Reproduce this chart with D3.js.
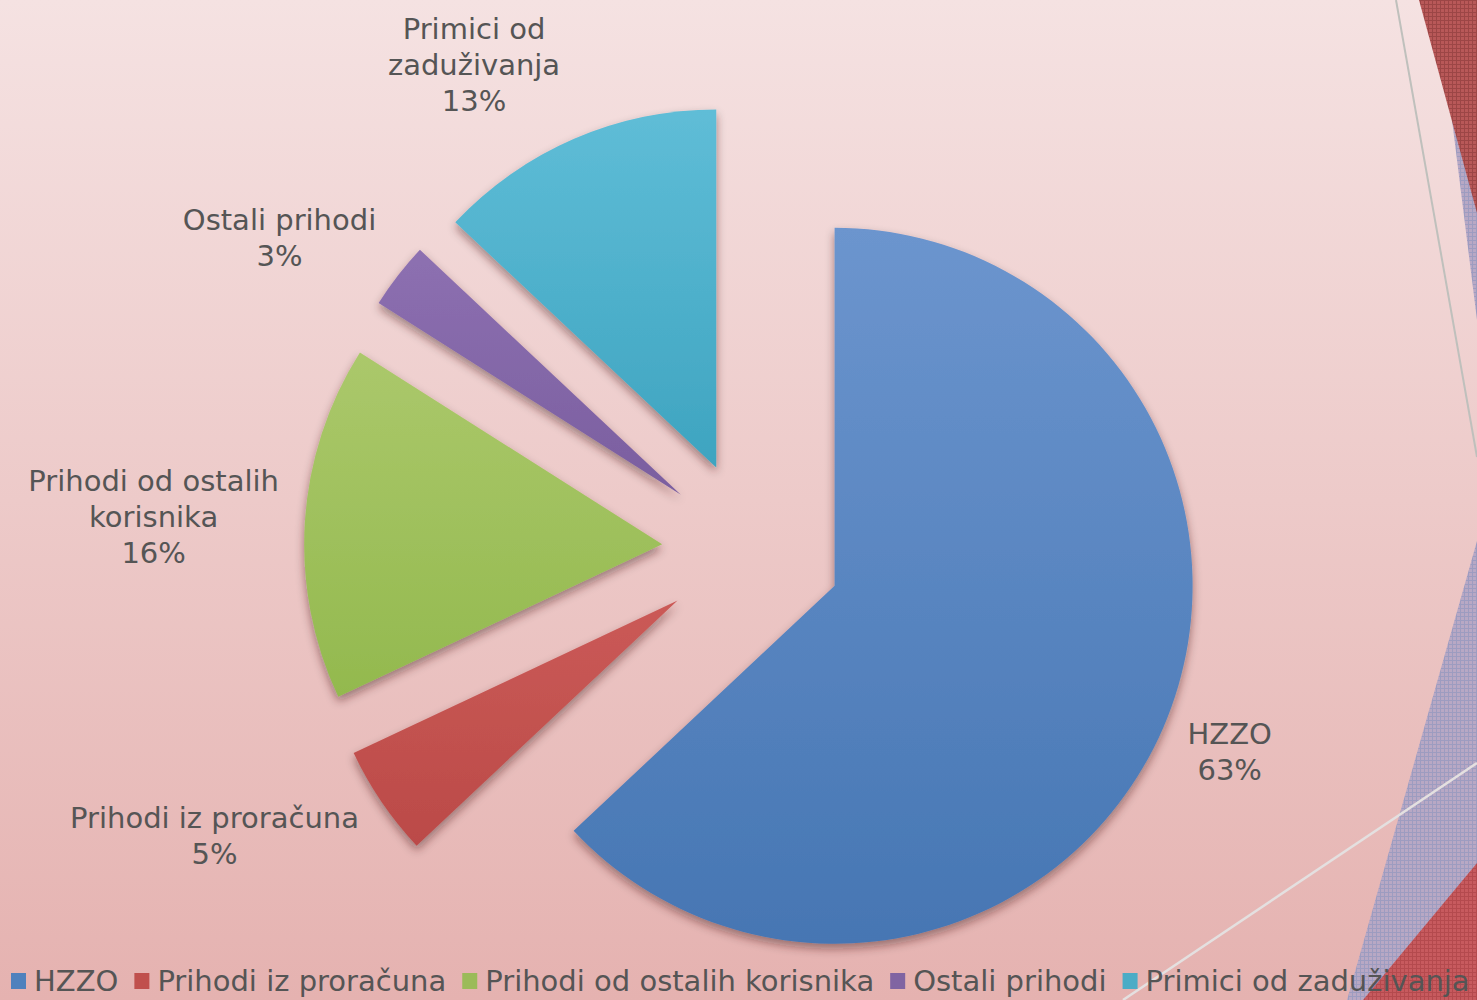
<!DOCTYPE html>
<html>
<head>
<meta charset="utf-8">
<script src="https://cdn.jsdelivr.net/npm/d3@7"></script>
<style>
  body { margin: 0; padding: 0; overflow: hidden; }
  #chart text { font-family: "DejaVu Sans", sans-serif; fill: #555; }
</style>
</head>
<body>
<div id="chart"></div>
<script>
(function () {
// data
const categories = ["HZZO", "Prihodi iz proračuna", "Prihodi od ostalih korisnika", "Ostali prihodi", "Primici od zaduživanja"];
const shares = [63, 5, 16, 3, 13];
const labelLines = [["HZZO"], ["Prihodi iz proračuna"], ["Prihodi od ostalih", "korisnika"], ["Ostali prihodi"], ["Primici od", "zaduživanja"]];
const colorsTop = ["#6c95ce", "#cb5a57", "#abc86b", "#8d70b1", "#5fbdd7"];
const colorsBottom = ["#4676b3", "#bb4a48", "#93b94e", "#7a5e9f", "#3ea4c0"];
const legendColors = ["#4f81bd", "#c0504d", "#9bbb59", "#8064a2", "#4bacc6"];

const svgWidth = 1477;
const svgHeight = 1000;

// pie geometry
const cx = 752, cy = 550;
const radius = 358;
const explode = 90;
const lineH = 36;

const svg = d3.select("#chart")
  .append("svg")
  .attr("width", svgWidth)
  .attr("height", svgHeight);

const defs = svg.append("defs");

// background gradient
const bg = defs.append("linearGradient")
  .attr("id", "bg")
  .attr("x1", 0).attr("y1", 0).attr("x2", 0).attr("y2", 1);
bg.append("stop").attr("offset", "0%").attr("stop-color", "#f5e2e2");
bg.append("stop").attr("offset", "100%").attr("stop-color", "#e5b2b0");

// slice gradients, top light to bottom dark
categories.forEach((c, i) => {
  const g = defs.append("linearGradient")
    .attr("id", "slice" + i)
    .attr("x1", 0).attr("y1", 0)
    .attr("x2", 0).attr("y2", 1);
  g.append("stop").attr("offset", "0%").attr("stop-color", colorsTop[i]);
  g.append("stop").attr("offset", "100%").attr("stop-color", colorsBottom[i]);
});

// soft drop shadow
const shadow = defs.append("filter")
  .attr("id", "shadow")
  .attr("x", "-20%").attr("y", "-20%")
  .attr("width", "140%").attr("height", "140%");
shadow.append("feDropShadow")
  .attr("dx", 0).attr("dy", 5)
  .attr("stdDeviation", 5)
  .attr("flood-color", "#3a1a1a")
  .attr("flood-opacity", 0.45);

// patterns for the decorative corners
function hatch(id, base, lineCol) {
  const p = defs.append("pattern")
    .attr("id", id)
    .attr("patternUnits", "userSpaceOnUse")
    .attr("width", 4).attr("height", 4);
  p.append("rect").attr("width", 4).attr("height", 4).attr("fill", base);
  p.append("rect").attr("width", 4).attr("height", 1).attr("fill", lineCol);
  p.append("rect").attr("width", 1).attr("height", 4).attr("fill", lineCol);
}
hatch("hatchRed", "#b85858", "#9c4646");
hatch("hatchBlue", "#b8a8c4", "#9d9cc0");
hatch("hatchRed2", "#c75a5e", "#b44a4e");

svg.append("rect")
  .attr("width", svgWidth)
  .attr("height", svgHeight)
  .attr("fill", "url(#bg)");

// decorative corner shapes (theme background)
const deco = svg.append("g");
deco.append("polygon").attr("points", "1437,0 1477,0 1477,320").attr("fill", "url(#hatchBlue)");
deco.append("polygon").attr("points", "1419,0 1477,0 1477,213").attr("fill", "url(#hatchRed)");
deco.append("line")
  .attr("x1", 1396).attr("y1", 0).attr("x2", 1477).attr("y2", 457)
  .attr("stroke", "#bfc0bc").attr("stroke-width", 2);
deco.append("polygon").attr("points", "1477,541 1477,1000 1347,1000").attr("fill", "url(#hatchBlue)");
deco.append("polygon").attr("points", "1477,863 1477,1000 1363,1000").attr("fill", "url(#hatchRed2)");
deco.append("line")
  .attr("x1", 1477).attr("y1", 763).attr("x2", 1123).attr("y2", 1000)
  .attr("stroke", "#e4e0e0").attr("stroke-width", 2.5);

// pie
const pie = d3.pie().sort(null).value(d => d);
const arcs = pie(shares);
const arc = d3.arc().innerRadius(0).outerRadius(radius);

const dir = a => [Math.sin(a), -Math.cos(a)];

const slices = svg.append("g");

slices.selectAll("path")
  .data(arcs)
  .join("path")
  .attr("transform", d => {
    const [dx, dy] = dir((d.startAngle + d.endAngle) / 2);
    return `translate(${cx + dx * explode}, ${cy + dy * explode})`;
  })
  .attr("d", arc)
  .attr("fill", (d, i) => `url(#slice${i})`)
  .attr("filter", "url(#shadow)");

// data labels
const labels = svg.append("g");
arcs.forEach((d, i) => {
  const [dx, dy] = dir((d.startAngle + d.endAngle) / 2);
  const px = cx + dx * (explode + radius + 20);
  const py = cy + dy * (explode + radius + 20);
  const lines = labelLines[i].concat([shares[i] + "%"]);

  const g = labels.append("g");
  const texts = g.selectAll("text")
    .data(lines)
    .join("text")
    .attr("text-anchor", "middle")
    .attr("dominant-baseline", "central")
    .style("font-size", "29px")
    .text(t => t);

  const w = d3.max(texts.nodes(), n => n.getComputedTextLength());
  const h = lines.length * lineH;
  const lx = px + Math.sign(dx) * (w / 2 + 6);
  const ly = py + dy * h / 2 * 1.12;

  texts
    .attr("x", lx)
    .attr("y", (t, j) => ly + (j - (lines.length - 1) / 2) * lineH);
});

// legend
const legend = svg.append("g")
  .attr("transform", "translate(11, 981)");
let xPos = 0;
categories.forEach((c, i) => {
  legend.append("rect")
    .attr("x", xPos)
    .attr("y", -8)
    .attr("width", 15)
    .attr("height", 16)
    .attr("fill", legendColors[i]);
  const t = legend.append("text")
    .attr("x", xPos + 23)
    .attr("y", 0)
    .attr("dominant-baseline", "central")
    .style("font-size", "29px")
    .text(c);
  xPos += 23 + t.node().getComputedTextLength() + 16;
});
})();
</script>
</body>
</html>
